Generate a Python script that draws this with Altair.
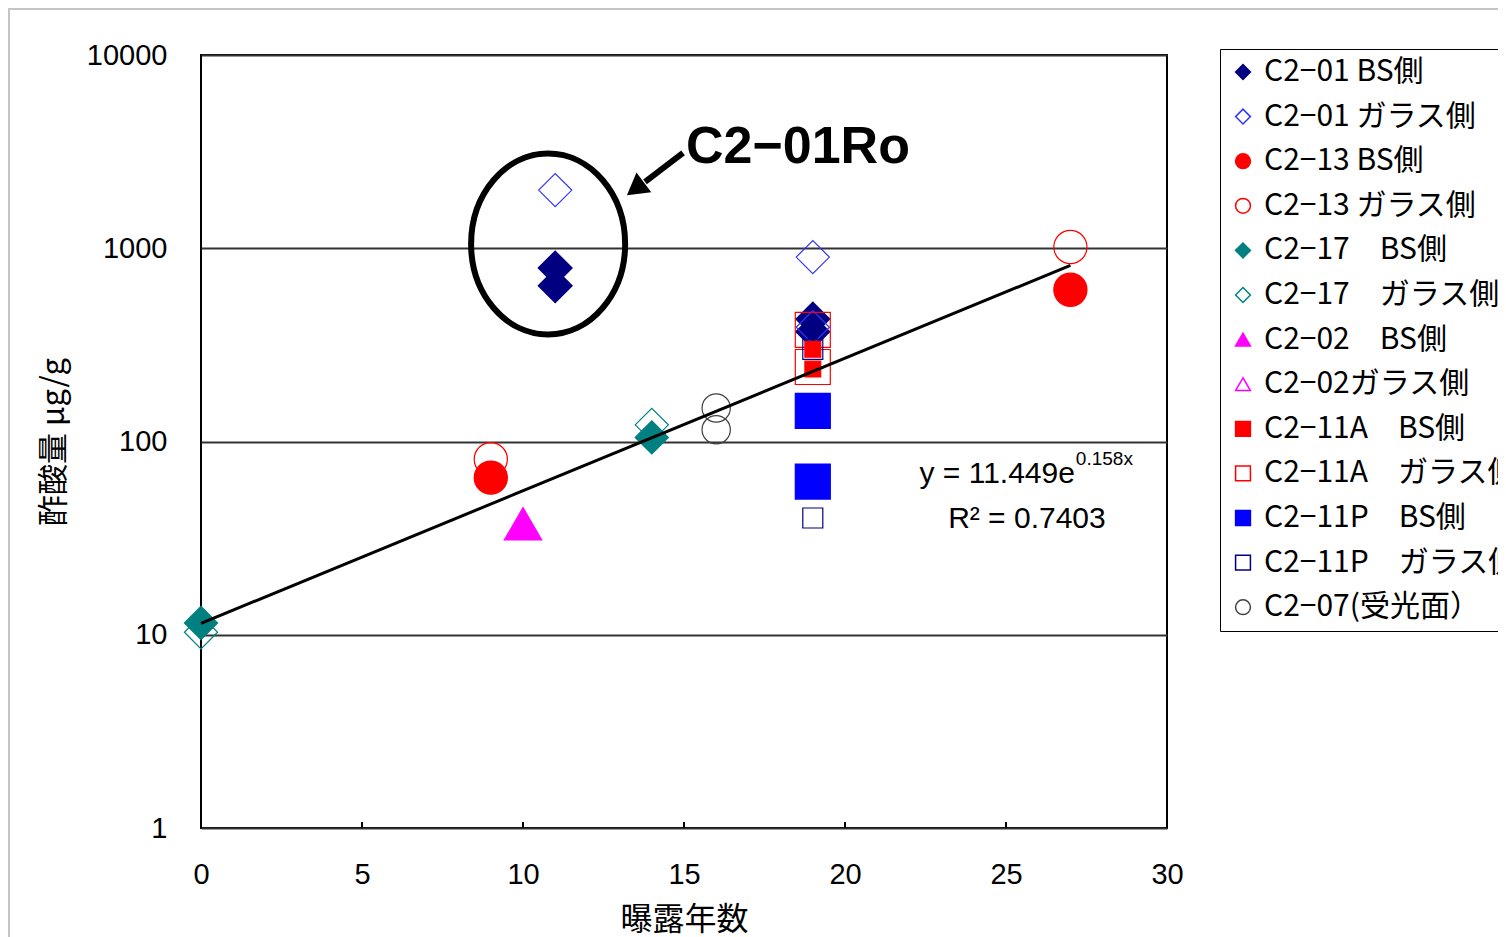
import altair as alt
import pandas as pd

# ---- series (legend order) ----
series = ["C2−01 BS側", "C2−01 ガラス側", "C2−13 BS側", "C2−13 ガラス側",
          "C2−17　BS側", "C2−17　ガラス側", "C2−02　BS側", "C2−02ガラス側",
          "C2−11A　BS側", "C2−11A　ガラス側", "C2−11P　BS側", "C2−11P　ガラス側",
          "C2−07(受光面）"]

# ---- data points (series index, exposure years, acetic acid µg/g) ----
pt_series = [0, 0, 0, 0, 1, 1, 1, 2, 2, 3, 3, 4, 4, 5, 5, 6, 8, 8, 9, 9, 10, 10, 11, 11, 12, 12]
pt_years = [11, 11, 19, 19, 11, 19, 19, 9, 27, 9, 27, 0, 14, 0, 14, 10, 19, 19, 19, 19, 19, 19, 19, 19, 16, 16]
pt_acetic = [790, 640, 430, 370, 2000, 900, 390, 65, 610, 81, 1015, 11.5, 105, 10.3, 122, 37.5,
             300, 237, 378, 243, 144, 62, 40.2, 300, 149, 115]

# ---- per-series styles ----
shapes = ["diamond", "diamond", "circle", "circle", "diamond", "diamond", "triangle-up", "triangle-up",
          "square", "square", "square", "square", "circle"]
strokes = ["#000080", "#3333ff", "#ff0000", "#ff0000", "#008080", "#008080", "#ff00ff", "#ff00ff",
           "#ff0000", "#ff0000", "#0000ff", "#000080", "#404040"]
fills = ["#000080", "transparent", "#ff0000", "transparent", "#008080", "transparent", "#ff00ff",
         "transparent", "#ff0000", "transparent", "#0000ff", "transparent", "transparent"]
sizes = [1150, 1100, 1100, 1100, 1100, 1100, 1400, 1400, 250, 1225, 1225, 400, 800]

# ---- trend line y = 11.449 e^(0.158x) ----
trend_a = 11.449
trend_b = 0.158
trend_x = [0, 27]

# ---- axis ticks ----
x_ticks = [0, 5, 10, 15, 20, 25, 30]
x_inner_ticks = [5, 10, 15, 20, 25]
y_ticks = [1, 10, 100, 1000, 10000]

# ---- annotation ----
ellipse_x = [10.78]
ellipse_y = [1052]
arrow_x = [14.97]
arrow_y = [3112]
arrow_x2 = [13.79]
arrow_y2 = [2203]
head_x = [13.49]
head_y = [2031]
note_x = [15.06]
note_y = [2761]
note_text = ["C2−01Ro"]
eq_x = [27.14]
eq_y = [61]
eq_text = ["y = 11.449e"]
sup_x = [27.17]
sup_y = [75.6]
sup_text = ["0.158x"]
r2_x = [25.65]
r2_y = [35.7]
r2_text = ["R² = 0.7403"]

pts = pd.DataFrame({
    "x": pt_years,
    "y": pt_acetic,
    "series": [series[i] for i in pt_series],
    "sz": [sizes[i] for i in pt_series],
})

LAT = "Liberation Sans"
JP = "Noto Sans CJK JP"

xscale = alt.Scale(domain=[0, 30], nice=False)
yscale = alt.Scale(type="log", domain=[1, 10000], nice=False)

leg = alt.Legend(orient="none", legendX=1019, legendY=-6, title=None,
                 strokeColor="black", fillColor="white", padding=8,
                 rowPadding=14.6, symbolSize=220, symbolStrokeWidth=1.5,
                 labelFont=JP, labelFontSize=30, labelColor="black",
                 labelLimit=600, labelOffset=6, symbolOffset=0)

xaxis = alt.Axis(values=x_ticks, title="曝露年数", labelFont=LAT, labelFontSize=29,
                 labelColor="black", labelPadding=32, labelFlush=False, labelOverlap=False,
                 ticks=False, domain=False, grid=False,
                 titleFont=JP, titleFontSize=32, titleFontWeight="normal", titleColor="black",
                 titlePadding=15, format="d")
yaxis = alt.Axis(values=y_ticks, title="酢酸量 μg/g", labelFont=LAT, labelFontSize=29,
                 labelColor="black", labelPadding=34, labelFlush=False, labelOverlap=False,
                 ticks=False, domain=False, grid=True,
                 gridColor="#333333", gridWidth=2, titleFont=JP, titleFontSize=31,
                 titleFontWeight="normal", titleColor="black", titlePadding=16, format="d")


def X(field):
    return alt.X(field, scale=xscale, axis=xaxis)


def Y(field):
    return alt.Y(field, scale=yscale, axis=yaxis)


one = pd.DataFrame({"k": [0]})

frame = alt.Chart(one).mark_rect(fill="transparent", stroke="#c4c4c4", strokeWidth=2).encode(
    x=alt.value(-192), x2=alt.value(1400), y=alt.value(-46), y2=alt.value(950))

points = alt.Chart(pts).mark_point(opacity=1, strokeWidth=1.2).encode(
    x=X("x:Q"),
    y=Y("y:Q"),
    shape=alt.Shape("series:N", scale=alt.Scale(domain=series, range=shapes), legend=leg),
    fill=alt.Fill("series:N", scale=alt.Scale(domain=series, range=fills), legend=leg),
    stroke=alt.Stroke("series:N", scale=alt.Scale(domain=series, range=strokes), legend=leg),
    size=alt.Size("sz:Q", scale=None),
)

ticks = alt.Chart(pd.DataFrame({"x": x_inner_ticks})).mark_rule(color="black", strokeWidth=2).encode(
    x=X("x:Q"), y=alt.value(767), y2=alt.value(773))

trend = alt.Chart(pd.DataFrame({"x": trend_x})).transform_calculate(
    y=f"{trend_a}*exp({trend_b}*datum.x)"
).mark_line(color="black", strokeWidth=3).encode(x=X("x:Q"), y=Y("y:Q"))

ellipse_path = "M -0.851 0 A 0.851 1 0 1 1 0.851 0 A 0.851 1 0 1 1 -0.851 0 Z"
ellipse = alt.Chart(pd.DataFrame({"x": ellipse_x, "y": ellipse_y})).mark_point(
    shape=ellipse_path, size=32761, filled=False, color="black", strokeWidth=6, opacity=1
).encode(x=X("x:Q"), y=Y("y:Q"))

arrow = alt.Chart(pd.DataFrame({"x": arrow_x, "y": arrow_y, "x2": arrow_x2, "y2": arrow_y2})).mark_rule(
    color="black", strokeWidth=6).encode(x=X("x:Q"), y=Y("y:Q"), x2="x2:Q", y2="y2:Q")

head = alt.Chart(pd.DataFrame({"x": head_x, "y": head_y})).mark_point(
    shape="triangle-up", size=600, filled=True, color="black", opacity=1, angle=233
).encode(x=X("x:Q"), y=Y("y:Q"))


def text_layer(xs, ys, texts, **kw):
    return alt.Chart(pd.DataFrame({"x": xs, "y": ys, "t": texts})).mark_text(**kw).encode(
        x=X("x:Q"), y=Y("y:Q"), text="t:N")


note = text_layer(note_x, note_y, note_text, font=LAT, fontSize=52, fontWeight="bold",
                  align="left", baseline="alphabetic", color="black")
eq = text_layer(eq_x, eq_y, eq_text, font=LAT, fontSize=30, align="right",
                baseline="alphabetic", color="black")
sup = text_layer(sup_x, sup_y, sup_text, font=LAT, fontSize=19, align="left",
                 baseline="alphabetic", color="black")
r2 = text_layer(r2_x, r2_y, r2_text, font=LAT, fontSize=30, align="center",
                baseline="alphabetic", color="black")

chart = alt.layer(points, frame, ticks, trend, ellipse, arrow, head, note, eq, sup, r2).properties(
    width=966, height=773,
    autosize=alt.AutoSizeParams(type="none"),
    padding={"left": 193, "top": 47, "right": 331, "bottom": 109},
    background="white",
).configure_view(stroke="black", strokeWidth=2)

chart.save("out.html", embed_options={"renderer": "svg", "actions": False})
